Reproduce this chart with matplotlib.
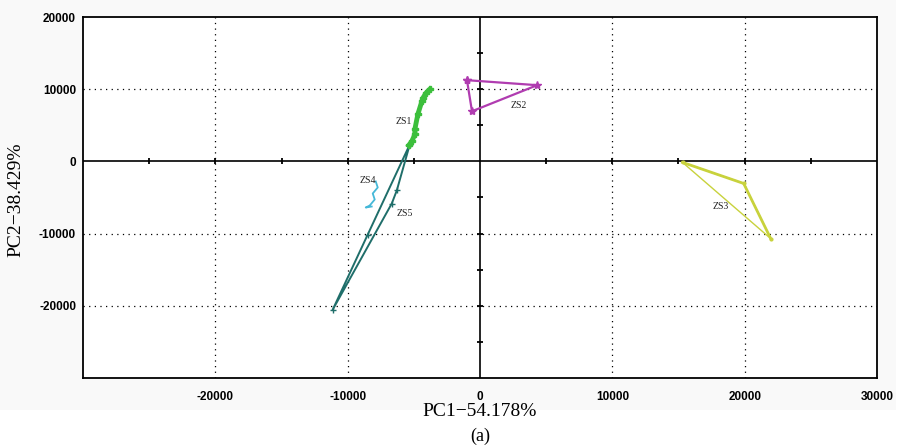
import numpy as np
import matplotlib
matplotlib.use("Agg")
import matplotlib.pyplot as plt
from matplotlib.patches import Rectangle
from matplotlib import font_manager

# ---- data (PC1, PC2 scores) ----
zs1_x = [-3788, -4091, -4318, -4394, -4697, -4924, -4924, -5152, -5379]
zs1_y = [10000, 9444, 8750, 8333, 6528, 4444, 3750, 2778, 2222]
zs2_x = [-985, 4318, -606, -985]
zs2_y = [11250, 10556, 6944, 11250]
zs3_x = [15303, 19924, 21970]
zs3_y = [-139, -3056, -10694]
zs4_x = [-7879, -7727, -8106, -7955, -8333, -8636, -8182]
zs4_y = [-2778, -3611, -4444, -5278, -6111, -6389, -6250]
zs5_x = [-5303, -6288, -6667, -11136, -8485, -5303]
zs5_y = [2361, -4028, -5833, -20556, -10139, 2361]
labels = ["ZS1", "ZS2", "ZS3", "ZS4", "ZS5"]
label_x = [-5758, 2955, 18182, -8485, -5682]
label_y = [5556, 7778, -6250, -2639, -7222]
xticks = [-20000, -10000, 0, 10000, 20000, 30000]
yticks = [20000, 10000, 0, -10000, -20000]
xlabel = "PC1\u221254.178%"
ylabel = "PC2\u221238.429%"
caption = "(a)"

names = {f.name for f in font_manager.fontManager.ttflist}
if "Liberation Sans Narrow" in names:
    tick_family, tick_size = "Liberation Sans Narrow", 10
else:
    tick_family, tick_size = "Liberation Sans", 8.5

fig = plt.figure(figsize=(9.01, 4.47), dpi=100)
fig.patches.append(Rectangle((0, 1 - 410 / 447), 0.995, 410 / 447,
                             transform=fig.transFigure, facecolor="#f9f9f9",
                             edgecolor="none", zorder=-10))
ax = fig.add_axes([83 / 901, 1 - 378 / 447, 794 / 901, 361 / 447])
ax.set_facecolor("white")
ax.set_xlim(-30000, 30000)
ax.set_ylim(-30000, 20000)

# dotted grid
for gx in [-20000, -10000, 10000, 20000]:
    ax.axvline(gx, color="black", lw=0.9, ls=(0, (1, 3.5)), zorder=1)
for gy in [10000, -10000, -20000]:
    ax.axhline(gy, color="black", lw=0.9, ls=(0, (1, 3.5)), zorder=1)

# central axes with ticks
ax.axhline(0, color="black", lw=1.2, zorder=2)
ax.axvline(0, color="black", lw=1.2, zorder=2)
tx = np.arange(-25000, 30000, 5000)
tx = tx[tx != 0]
ax.plot(tx, np.zeros_like(tx), ls="none", marker="|", ms=5, mew=1.3, color="black", zorder=2)
ty = np.arange(-25000, 20000, 5000)
ty = ty[ty != 0]
ax.plot(np.zeros_like(ty), ty, ls="none", marker="_", ms=5, mew=1.3, color="black", zorder=2)

# series
ax.plot(zs5_x, zs5_y, color="#1f6e6a", lw=1.4, marker="+", ms=4, zorder=3)
ax.plot(zs1_x, zs1_y, color="#3cbf3c", lw=3.5, marker="P", ms=5, zorder=4)
ax.plot(zs2_x, zs2_y, color="#b03cb0", lw=1.6, marker="*", ms=6, zorder=3)
ax.plot(zs3_x + [zs3_x[0]], zs3_y + [zs3_y[0]], color="#c8d23c", lw=1.0, zorder=3)
ax.plot(zs3_x, zs3_y, color="#c8d23c", lw=2.0, marker=".", ms=4, zorder=3)
ax.plot(zs4_x, zs4_y, color="#45b8d8", lw=1.3, zorder=3)

for t, lx, ly in zip(labels, label_x, label_y):
    ax.text(lx, ly, t, fontsize=7, family="Liberation Serif", ha="center",
            va="center", color="#222222", zorder=5)

ax.set_xticks(xticks)
ax.set_yticks(yticks)
ax.set_xticklabels([str(v) for v in xticks], fontsize=tick_size, fontweight="bold",
                   family=tick_family)
ax.set_yticklabels([str(v) for v in yticks], fontsize=tick_size, fontweight="bold",
                   family=tick_family)
ax.tick_params(length=0, pad=5)
ax.tick_params(axis="x", pad=9)
for s in ax.spines.values():
    s.set_linewidth(1.3)

fig.text(480 / 901, 1 - 411 / 447, xlabel, fontsize=14, family="Liberation Serif",
         ha="center", va="center")
fig.text(480 / 901, 1 - 436 / 447, caption, fontsize=13, family="Liberation Serif",
         ha="center", va="center")
fig.text(16 / 901, 1 - 200 / 447, ylabel, fontsize=14, family="Liberation Serif",
         ha="center", va="center", rotation=90)

fig.savefig("out.png", dpi=100)
